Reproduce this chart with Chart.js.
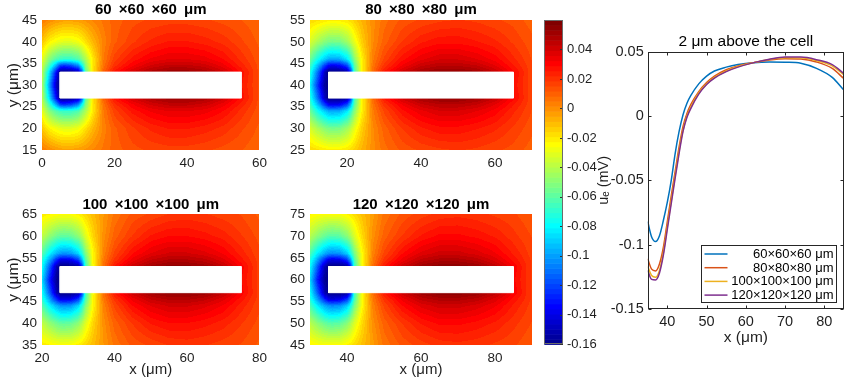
<!DOCTYPE html>
<html>
<head>
<meta charset="utf-8">
<script src="https://cdn.jsdelivr.net/npm/chart.js@4.4.1/dist/chart.umd.min.js"></script>
<style>
  html, body { margin: 0; padding: 0; background: #fff; }
  #wrap { position: relative; width: 850px; height: 384px; overflow: hidden; background: #fff; }
  canvas { position: absolute; }
</style>
</head>
<body>
<div id="wrap">
  <canvas id="f0" width="272" height="190" style="left:0;top:0"></canvas>
  <canvas id="f1" width="268" height="190" style="left:272px;top:0"></canvas>
  <canvas id="f2" width="272" height="194" style="left:0;top:190px"></canvas>
  <canvas id="f3" width="268" height="194" style="left:272px;top:190px"></canvas>
  <canvas id="cb" width="60" height="384" style="left:540px;top:0"></canvas>
  <canvas id="ln" width="255" height="384" style="left:595px;top:0"></canvas>
</div>
<script>
// ---- heat map panels ----
const boxTitles = [
  '60 \u2009×60 \u2009×60 \u2009μm',
  '80 \u2009×80 \u2009×80 \u2009μm',
  '100 \u2009×100 \u2009×100 \u2009μm',
  '120 \u2009×120 \u2009×120 \u2009μm'
];
const xRanges = [[0, 60], [10, 70], [20, 80], [30, 90]];
const yRanges = [[15, 45], [25, 55], [35, 65], [45, 75]];
const xTicks = [[0, 20, 40, 60], [20, 40, 60], [20, 40, 60, 80], [40, 60, 80]];
const yTicks = [
  [15, 20, 25, 30, 35, 40, 45],
  [25, 30, 35, 40, 45, 50, 55],
  [35, 40, 45, 50, 55, 60, 65],
  [45, 50, 55, 60, 65, 70, 75]
];
const cellX = [[5, 55], [15, 65], [25, 75], [35, 85]];
const cellY = [[27, 33], [37, 43], [47, 53], [57, 63]];

// sample nodes: µm from left edge of panel, µm from the cell axis
const nodeDx = [0, 2, 4, 5, 6, 8, 10, 11, 12, 14, 17, 20, 25, 30, 35, 40, 45, 50, 55, 60];
const nodeDy = [15, 10, 6, 4.5, 3, 0, -3, -4.5, -6, -10, -15];

// u_e at the nodes, in µV
const field60 = [
  [5, 1, -2, -3, -4, -4, -3, -2, -1, 2, 6, 10, 14, 16, 17, 17, 16, 14, 12, 9],
  [-12, -22, -27, -29, -30, -30, -27, -23, -18, -9, 3, 11, 18, 23, 26, 26, 24, 21, 16, 11],
  [-28, -50, -62, -66, -68, -68, -62, -52, -42, -20, 5, 17, 27, 33, 36, 36, 34, 29, 21, 13],
  [-34, -65, -100, -120, -125, -120, -105, -80, -52, -20, 7, 21, 32, 40, 44, 44, 41, 34, 24, 14],
  [-38, -85, -135, -160, -160, -158, -150, -120, -60, -20, 10, 27, 40, 48, 52, 52, 49, 41, 28, 14],
  [-40, -100, -150, -160, -160, -158, -150, -120, -60, -20, 10, 27, 40, 48, 52, 52, 49, 41, 26, 14],
  [-38, -85, -135, -160, -160, -158, -150, -120, -60, -20, 10, 27, 40, 48, 52, 52, 49, 41, 28, 14],
  [-34, -65, -100, -120, -125, -120, -105, -80, -52, -20, 7, 21, 32, 40, 44, 44, 41, 34, 24, 14],
  [-28, -50, -62, -66, -68, -68, -62, -52, -42, -20, 5, 17, 27, 33, 36, 36, 34, 29, 21, 13],
  [-12, -22, -27, -29, -30, -30, -27, -23, -18, -9, 3, 11, 18, 23, 26, 26, 24, 21, 16, 11],
  [5, 1, -2, -3, -4, -4, -3, -2, -1, 2, 6, 10, 14, 16, 17, 17, 16, 14, 12, 9]
];
const field80 = [
  [-16, -18, -20, -21, -21, -21, -19, -17, -14, -8, 0, 7, 13, 16, 18, 19, 18, 16, 14, 10],
  [-32, -42, -50, -53, -54, -53, -45, -38, -29, -14, 1, 10, 19, 25, 28, 28, 26, 23, 18, 13],
  [-55, -75, -90, -96, -98, -96, -84, -70, -50, -22, 4, 16, 28, 35, 39, 39, 36, 31, 23, 15],
  [-65, -92, -122, -135, -138, -135, -120, -95, -60, -23, 6, 20, 33, 42, 46, 46, 43, 36, 26, 16],
  [-72, -108, -148, -160, -160, -160, -155, -125, -65, -24, 8, 26, 41, 50, 54, 54, 51, 43, 30, 16],
  [-80, -122, -156, -160, -160, -160, -155, -125, -65, -24, 8, 26, 41, 50, 54, 54, 51, 43, 28, 16],
  [-72, -108, -148, -160, -160, -160, -155, -125, -65, -24, 8, 26, 41, 50, 54, 54, 51, 43, 30, 16],
  [-65, -92, -122, -135, -138, -135, -120, -95, -60, -23, 6, 20, 33, 42, 46, 46, 43, 36, 26, 16],
  [-55, -75, -90, -96, -98, -96, -84, -70, -50, -22, 4, 16, 28, 35, 39, 39, 36, 31, 23, 15],
  [-32, -42, -50, -53, -54, -53, -45, -38, -29, -14, 1, 10, 19, 25, 28, 28, 26, 23, 18, 13],
  [-16, -18, -20, -21, -21, -21, -19, -17, -14, -8, 0, 7, 13, 16, 18, 19, 18, 16, 14, 10]
];
const field100 = [
  [-20, -22, -24, -24, -24, -24, -21, -19, -16, -10, -2, 6, 13, 16, 19, 20, 19, 17, 15, 11],
  [-37, -47, -55, -58, -59, -57, -49, -41, -31, -16, 0, 10, 19, 26, 29, 29, 27, 24, 19, 14],
  [-60, -80, -95, -100, -102, -100, -88, -73, -52, -24, 3, 16, 29, 36, 40, 40, 37, 32, 24, 16],
  [-70, -97, -126, -138, -140, -137, -122, -97, -62, -24, 5, 20, 34, 43, 47, 47, 44, 37, 27, 17],
  [-76, -112, -150, -160, -160, -160, -156, -127, -67, -25, 7, 26, 42, 51, 55, 55, 52, 44, 31, 17],
  [-85, -127, -157, -160, -160, -160, -156, -127, -67, -25, 7, 26, 42, 51, 55, 55, 52, 44, 29, 17],
  [-76, -112, -150, -160, -160, -160, -156, -127, -67, -25, 7, 26, 42, 51, 55, 55, 52, 44, 31, 17],
  [-70, -97, -126, -138, -140, -137, -122, -97, -62, -24, 5, 20, 34, 43, 47, 47, 44, 37, 27, 17],
  [-60, -80, -95, -100, -102, -100, -88, -73, -52, -24, 3, 16, 29, 36, 40, 40, 37, 32, 24, 16],
  [-37, -47, -55, -58, -59, -57, -49, -41, -31, -16, 0, 10, 19, 26, 29, 29, 27, 24, 19, 14],
  [-20, -22, -24, -24, -24, -24, -21, -19, -16, -10, -2, 6, 13, 16, 19, 20, 19, 17, 15, 11]
];
const field120 = [
  [-22, -24, -25, -25, -25, -25, -22, -20, -17, -11, -3, 6, 13, 17, 20, 21, 20, 18, 16, 12],
  [-39, -49, -57, -60, -61, -59, -50, -42, -32, -17, 0, 10, 19, 26, 30, 30, 28, 25, 20, 15],
  [-62, -82, -97, -102, -104, -102, -90, -75, -53, -25, 3, 16, 29, 37, 41, 41, 38, 33, 25, 17],
  [-72, -99, -128, -140, -142, -139, -124, -99, -63, -25, 5, 20, 34, 44, 48, 48, 45, 38, 28, 18],
  [-78, -114, -151, -160, -160, -160, -157, -128, -68, -26, 7, 26, 42, 52, 56, 56, 53, 45, 32, 18],
  [-87, -129, -157, -160, -160, -160, -157, -128, -68, -26, 7, 26, 42, 52, 56, 56, 53, 45, 30, 18],
  [-78, -114, -151, -160, -160, -160, -157, -128, -68, -26, 7, 26, 42, 52, 56, 56, 53, 45, 32, 18],
  [-72, -99, -128, -140, -142, -139, -124, -99, -63, -25, 5, 20, 34, 44, 48, 48, 45, 38, 28, 18],
  [-62, -82, -97, -102, -104, -102, -90, -75, -53, -25, 3, 16, 29, 37, 41, 41, 38, 33, 25, 17],
  [-39, -49, -57, -60, -61, -59, -50, -42, -32, -17, 0, 10, 19, 26, 30, 30, 28, 25, 20, 15],
  [-22, -24, -25, -25, -25, -25, -22, -20, -17, -11, -3, 6, 13, 17, 20, 21, 20, 18, 16, 12]
];
const fields = [field60, field80, field100, field120];

// ---- colour bar ----
const cbRange = [-0.16, 0.06];
const cbTicks = [-0.16, -0.14, -0.12, -0.1, -0.08, -0.06, -0.04, -0.02, 0, 0.02, 0.04];

// ---- line plot: 2 µm above the cell ----
const lineX = [35, 36, 37, 38, 39, 40, 41, 42, 43, 44, 45, 46, 48, 50, 52, 55, 58, 62, 66, 70, 74, 78, 82, 85];
const ue60 = [-0.082, -0.094, -0.0976, -0.093, -0.081, -0.067, -0.050, -0.029, -0.012, 0.001, 0.010, 0.016, 0.025, 0.031, 0.035, 0.038, 0.040, 0.0415, 0.042, 0.0418, 0.041, 0.037, 0.030, 0.020];
const ue80 = [-0.111, -0.119, -0.1204, -0.115, -0.102, -0.082, -0.062, -0.043, -0.024, -0.008, 0.002, 0.009, 0.019, 0.026, 0.031, 0.036, 0.039, 0.0415, 0.0435, 0.0445, 0.0443, 0.042, 0.037, 0.029];
const ue100 = [-0.117, -0.124, -0.1253, -0.120, -0.106, -0.086, -0.066, -0.046, -0.027, -0.011, 0.000, 0.007, 0.018, 0.025, 0.030, 0.035, 0.0385, 0.0415, 0.044, 0.0453, 0.0452, 0.043, 0.039, 0.032];
const ue120 = [-0.120, -0.127, -0.1274, -0.122, -0.108, -0.088, -0.068, -0.048, -0.029, -0.012, -0.001, 0.006, 0.017, 0.0245, 0.0295, 0.0345, 0.038, 0.0415, 0.0442, 0.0458, 0.0458, 0.0438, 0.040, 0.033];
const lineLabels = ['60×60×60 μm', '80×80×80 μm', '100×100×100 μm', '120×120×120 μm'];
const lineXTicks = [40, 50, 60, 70, 80];
const lineYTicks = [-0.15, -0.1, -0.05, 0, 0.05];

const FONT = '"Liberation Sans", Arial, Helvetica, sans-serif';
const INK = '#1f1f1f';
Chart.defaults.font.family = FONT;
Chart.defaults.color = INK;
Chart.defaults.animation = false;

// MATLAB jet(64)
function jetLevel(k) {
  const u = j => (j < 16 ? (j + 1) / 16 : j < 31 ? 1 : (47 - j) / 16);
  const f = j => (j >= 0 && j < 47 ? u(j) : 0);
  const i = k + 1;
  return [f(i - 25), f(i - 9), f(i + 7)];
}
function jetColor(v) {
  let k = Math.floor((v - cbRange[0]) / (cbRange[1] - cbRange[0]) * 64);
  k = Math.max(0, Math.min(63, k));
  return jetLevel(k).map(c => Math.round(c * 255));
}
const clamp01 = t => Math.max(0, Math.min(1, t));

function sampleField(grid, dx, dy) {
  let i = 0;
  while (i < nodeDx.length - 2 && dx > nodeDx[i + 1]) i++;
  let j = 0;
  while (j < nodeDy.length - 2 && dy < nodeDy[j + 1]) j++;
  const tx = clamp01((dx - nodeDx[i]) / (nodeDx[i + 1] - nodeDx[i]));
  const ty = clamp01((nodeDy[j] - dy) / (nodeDy[j] - nodeDy[j + 1]));
  const a = grid[j][i], b = grid[j][i + 1], c = grid[j + 1][i], d = grid[j + 1][i + 1];
  return ((a * (1 - tx) + b * tx) * (1 - ty) + (c * (1 - tx) + d * tx) * ty) / 1000;
}

const fieldPlugin = {
  id: 'field',
  beforeDatasetsDraw(chart, args, opts) {
    const p = opts.panel;
    const { ctx, chartArea: a, scales } = chart;
    const left = Math.round(a.left), top = Math.round(a.top);
    const w = Math.round(a.right) - left, h = Math.round(a.bottom) - top;
    const x0 = xRanges[p][0];
    const yc = (cellY[p][0] + cellY[p][1]) / 2;
    const off = document.createElement('canvas');
    off.width = w;
    off.height = h;
    const octx = off.getContext('2d');
    const img = octx.createImageData(w, h);
    for (let j = 0; j < h; j++) {
      const dy = scales.y.getValueForPixel(top + j + 0.5) - yc;
      for (let i = 0; i < w; i++) {
        const dx = scales.x.getValueForPixel(left + i + 0.5) - x0;
        const c = jetColor(sampleField(fields[p], dx, dy));
        const k = (j * w + i) * 4;
        img.data[k] = c[0];
        img.data[k + 1] = c[1];
        img.data[k + 2] = c[2];
        img.data[k + 3] = 255;
      }
    }
    octx.putImageData(img, 0, 0);
    ctx.drawImage(off, left, top);
  }
};

const panelLayout = [
  { yw: 42, xh: 40, padRight: 8, titlePad: { top: 1.2, bottom: 1.0 }, yTitle: true, xTitle: false },
  { yw: 38, xh: 40, padRight: 8, titlePad: { top: 1.2, bottom: 1.0 }, yTitle: false, xTitle: false },
  { yw: 42, xh: 39, padRight: 8, titlePad: { top: 6.2, bottom: 0 }, yTitle: true, xTitle: true },
  { yw: 38, xh: 39, padRight: 8, titlePad: { top: 6.2, bottom: 0 }, yTitle: false, xTitle: true }
];

function fieldChart(p) {
  const L = panelLayout[p];
  const cx = cellX[p], cy = cellY[p];
  return new Chart(document.getElementById('f' + p), {
    type: 'line',
    data: {
      datasets: [{
        data: [
          { x: cx[0], y: cy[0] }, { x: cx[1], y: cy[0] },
          { x: cx[1], y: cy[1] }, { x: cx[0], y: cy[1] }, { x: cx[0], y: cy[0] }
        ],
        borderColor: '#ffffff',
        backgroundColor: '#ffffff',
        borderWidth: 1,
        pointRadius: 0,
        tension: 0,
        fill: 'shape'
      }]
    },
    options: {
      responsive: false,
      devicePixelRatio: 1,
      layout: { padding: { left: 0, right: L.padRight, top: 0, bottom: 0 } },
      scales: {
        x: {
          type: 'linear',
          min: xRanges[p][0],
          max: xRanges[p][1],
          grid: { display: false, drawTicks: false },
          border: { display: false },
          ticks: { padding: 5, font: { size: 13.5 }, color: INK, maxRotation: 0 },
          afterBuildTicks: s => { s.ticks = xTicks[p].map(v => ({ value: v })); },
          afterFit: s => { s.height = L.xh; },
          title: {
            display: L.xTitle, text: 'x (μm)', color: INK,
            font: { size: 15, lineHeight: 1.2 }, padding: { top: 0, bottom: 5 }
          }
        },
        y: {
          type: 'linear',
          min: yRanges[p][0],
          max: yRanges[p][1],
          grid: { display: false, drawTicks: false },
          border: { display: false },
          ticks: { padding: 5, font: { size: 13.5 }, color: INK },
          afterBuildTicks: s => { s.ticks = yTicks[p].map(v => ({ value: v })); },
          afterFit: s => { s.width = L.yw; },
          title: {
            display: L.yTitle, text: 'y (μm)', color: INK,
            font: { size: 15.5, lineHeight: 1.2 }, padding: { top: 4.8, bottom: 0 }
          }
        }
      },
      plugins: {
        legend: { display: false },
        tooltip: { enabled: false },
        title: {
          display: true,
          text: boxTitles[p],
          fullSize: false,
          color: '#000',
          font: { size: 15, weight: 'bold', lineHeight: 1.2 },
          padding: L.titlePad
        },
        field: { panel: p }
      }
    },
    plugins: [fieldPlugin]
  });
}

[0, 1, 2, 3].forEach(fieldChart);

// colour bar
const colorbarPlugin = {
  id: 'colorbar',
  afterDraw(chart) {
    const { ctx, chartArea: a, scales: { y } } = chart;
    const span = cbRange[1] - cbRange[0];
    for (let k = 0; k < 64; k++) {
      const lo = cbRange[0] + span * k / 64;
      const hi = cbRange[0] + span * (k + 1) / 64;
      const y0 = y.getPixelForValue(hi), y1 = y.getPixelForValue(lo);
      const c = jetLevel(k).map(v => Math.round(v * 255));
      ctx.fillStyle = `rgb(${c[0]},${c[1]},${c[2]})`;
      ctx.fillRect(a.left, y0, a.right - a.left, y1 - y0 + 0.6);
    }
    ctx.save();
    ctx.strokeStyle = '#333';
    ctx.lineWidth = 1;
    y.ticks.forEach(t => {
      const py = Math.round(y.getPixelForValue(t.value)) + 0.5;
      ctx.beginPath();
      ctx.moveTo(a.right - 3, py);
      ctx.lineTo(a.right, py);
      ctx.stroke();
    });
    ctx.strokeStyle = '#6b6b6b';
    ctx.strokeRect(Math.round(a.left) + 0.5, Math.round(a.top) + 0.5, Math.round(a.right - a.left) - 1, Math.round(a.bottom - a.top) - 1);
    ctx.restore();
  }
};

new Chart(document.getElementById('cb'), {
  type: 'line',
  data: { datasets: [] },
  options: {
    responsive: false,
    devicePixelRatio: 1,
    layout: { padding: { left: 4.3, right: 0, top: 20, bottom: 39.7 } },
    scales: {
      x: { type: 'linear', display: false, min: 0, max: 1 },
      y: {
        type: 'linear',
        position: 'right',
        min: cbRange[0],
        max: cbRange[1],
        grid: { display: false, drawTicks: false },
        border: { display: false },
        ticks: {
          padding: 4, font: { size: 13 }, color: INK,
          callback: v => String(Math.round(v * 100) / 100)
        },
        afterBuildTicks: s => { s.ticks = cbTicks.map(v => ({ value: v })); },
        afterFit: s => { s.width = 37; }
      }
    },
    plugins: { legend: { display: false }, tooltip: { enabled: false } }
  },
  plugins: [colorbarPlugin]
});

// line plot
const series = [ue60, ue80, ue100, ue120];
const lineColors = ['#0072BD', '#D95319', '#EDB120', '#7E2F8E'];

const frameLegendPlugin = {
  id: 'frameLegend',
  afterDatasetsDraw(chart) {
    const { ctx, chartArea: a, scales: { x, y } } = chart;
    ctx.save();
    ctx.strokeStyle = '#262626';
    ctx.lineWidth = 1;
    const L = Math.round(a.left) + 0.5, R = Math.round(a.right) - 0.5;
    const T = Math.round(a.top) + 0.5, B = Math.round(a.bottom) - 0.5;
    ctx.strokeRect(L, T, R - L, B - T);
    ctx.beginPath();
    x.ticks.forEach(t => {
      const px = Math.round(x.getPixelForValue(t.value)) + 0.5;
      ctx.moveTo(px, B); ctx.lineTo(px, B - 3);
      ctx.moveTo(px, T); ctx.lineTo(px, T + 3);
    });
    y.ticks.forEach(t => {
      const py = Math.round(y.getPixelForValue(t.value)) + 0.5;
      ctx.moveTo(L, py); ctx.lineTo(L + 3, py);
      ctx.moveTo(R, py); ctx.lineTo(R - 3, py);
    });
    ctx.stroke();

    // legend box, lower right inside the axes
    const bw = 135, bh = 57;
    const bx = Math.round(a.right - 8 - bw) + 0.5, by = Math.round(a.bottom - 7 - bh) + 0.5;
    ctx.fillStyle = '#fff';
    ctx.fillRect(bx, by, bw, bh);
    ctx.strokeRect(bx, by, bw, bh);
    ctx.font = '13px ' + FONT;
    ctx.textAlign = 'right';
    ctx.textBaseline = 'middle';
    chart.data.datasets.forEach((ds, i) => {
      const ry = by + 8.5 + i * 13.7;
      ctx.strokeStyle = ds.borderColor;
      ctx.lineWidth = 1.5;
      ctx.beginPath();
      ctx.moveTo(bx + 3, ry);
      ctx.lineTo(bx + 26, ry);
      ctx.stroke();
      ctx.fillStyle = '#000';
      ctx.fillText(ds.label, bx + bw - 3, ry + 0.5);
    });
    ctx.restore();
  }
};

new Chart(document.getElementById('ln'), {
  type: 'line',
  data: {
    datasets: series.map((s, i) => ({
      label: lineLabels[i],
      data: lineX.map((xv, k) => ({ x: xv, y: s[k] })),
      borderColor: lineColors[i],
      backgroundColor: lineColors[i],
      borderWidth: 1.5,
      pointRadius: 0,
      cubicInterpolationMode: 'monotone',
      order: 3 - i
    }))
  },
  options: {
    responsive: false,
    devicePixelRatio: 1,
    layout: { padding: { left: 0, right: 6, top: 0, bottom: 0 } },
    scales: {
      x: {
        type: 'linear',
        min: 35,
        max: 85,
        grid: { display: false, drawTicks: false },
        border: { display: false },
        ticks: { padding: 4, font: { size: 14.5 }, color: INK, maxRotation: 0 },
        afterBuildTicks: s => { s.ticks = lineXTicks.map(v => ({ value: v })); },
        afterFit: s => { s.height = 75; },
        title: {
          display: true, text: 'x (μm)', color: INK,
          font: { size: 15.5, lineHeight: 1.2 }, padding: { top: 0, bottom: 37.2 }
        }
      },
      y: {
        type: 'linear',
        min: -0.15,
        max: 0.05,
        grid: { display: false, drawTicks: false },
        border: { display: false },
        ticks: {
          padding: 4, font: { size: 14.5 }, color: INK,
          callback: v => String(Math.round(v * 100) / 100)
        },
        afterBuildTicks: s => { s.ticks = lineYTicks.map(v => ({ value: v })); },
        afterFit: s => { s.width = 52.7; },
        title: {
          display: true, text: 'uₑ (mV)', color: INK,
          font: { size: 14.5, lineHeight: 1.2 }, padding: { top: 0.3, bottom: 0 }
        }
      }
    },
    plugins: {
      legend: { display: false },
      tooltip: { enabled: false },
      title: {
        display: true,
        text: '2 μm above the cell',
        fullSize: false,
        color: '#000',
        font: { size: 15.5, weight: 'normal', lineHeight: 1.2 },
        padding: { top: 32.2, bottom: 0.9 }
      }
    }
  },
  plugins: [frameLegendPlugin]
});
</script>
</body>
</html>
